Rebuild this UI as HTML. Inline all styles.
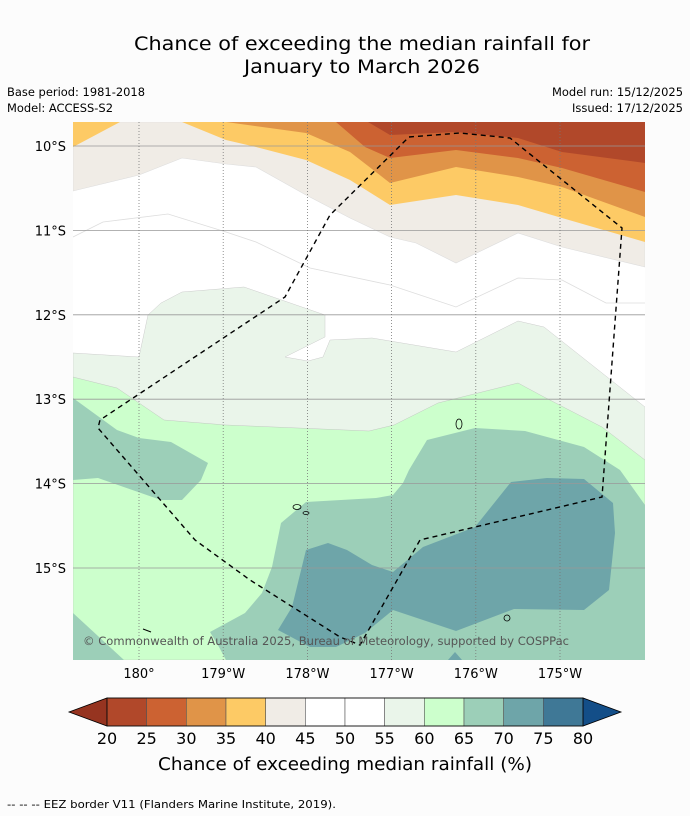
<!DOCTYPE html>
<html><head><meta charset="utf-8"><style>
body{margin:0;background:#fcfcfc;}
svg{display:block;font-family:"DejaVu Sans","Liberation Sans",sans-serif;}
</style></head><body>
<svg id="fig" width="690" height="816" viewBox="0 0 690 816">
<rect width="690" height="816" fill="#fcfcfc"/>
<text x="362" y="50" font-size="19" text-anchor="middle" textLength="456" lengthAdjust="spacingAndGlyphs" fill="#000">Chance of exceeding the median rainfall for</text>
<text x="362" y="73" font-size="19" text-anchor="middle" textLength="236" lengthAdjust="spacingAndGlyphs" fill="#000">January to March 2026</text>
<text x="7" y="96" font-size="11.5" textLength="138" lengthAdjust="spacingAndGlyphs">Base period: 1981-2018</text>
<text x="7" y="112" font-size="11.5" textLength="106" lengthAdjust="spacingAndGlyphs">Model: ACCESS-S2</text>
<text x="683" y="96" font-size="11.5" text-anchor="end" textLength="131" lengthAdjust="spacingAndGlyphs">Model run: 15/12/2025</text>
<text x="683" y="112" font-size="11.5" text-anchor="end" textLength="111" lengthAdjust="spacingAndGlyphs">Issued: 17/12/2025</text>
<defs><clipPath id="mapclip"><rect x="73" y="122" width="572" height="538"/></clipPath></defs>
<g clip-path="url(#mapclip)">
<rect x="73" y="122" width="572" height="538" fill="#ffffff"/>
<polygon fill="#f0ece6" stroke="#ddd" stroke-width="0.6" points="73,122 645,122 645,267 562,247 518,233 456,263 416,243 390,237 350,218 306,195 256,167 226,164 182,158 139,175 73,191"/>
<polygon fill="#fdca65" points="182,122 645,122 645,242 562,218 518,205 456,195 390,205 350,180 306,160 256,147 226,140"/>
<polygon fill="#fdca65" points="73,122 120,122 73,147"/>
<polygon fill="#e09448" points="226,122 645,122 645,217 562,187 518,177 456,167 390,183 350,152 306,133"/>
<polygon fill="#cc6232" points="336,122 645,122 645,192 562,168 518,158 456,150 390,158 365,147"/>
<polygon fill="#b1482a" points="368,122 645,122 645,163 562,152 518,138 456,132 390,135"/>
<polyline fill="none" stroke="#ddd" stroke-width="0.8" points="73,237 103,222 168,214 226,232 256,242 310,268 390,285 456,307 518,278 562,280 606,303 645,303"/>
<polygon fill="#eaf5ea" stroke="#ccc" stroke-width="0.5" points="73,353 139,357 148,315 161,303 182,292 244,287 325,315 325,337 285,357 308,361 323,357 330,340 372,338 456,352 518,321 544,327 645,407 645,660 73,660"/>
<polygon fill="#ccffcc" stroke="#bbb" stroke-width="0.4" points="73,377 117,388 164,420 226,425 369,431 394,425 438,403 518,383 544,397 602,427 645,460 645,660 73,660"/>
<polygon fill="#9ccfb8" points="73,398 117,430 139,438 171,442 208,463 201,480 182,500 161,500 98,478 73,480"/>
<polygon fill="#9ccfb8" points="73,613 124,660 73,660"/>
<polygon fill="#9ccfb8" points="210,632 245,613 262,593 272,567 281,523 306,502 376,498 393,495 403,483 409,470 427,440 475,428 525,431 584,447 620,470 645,505 645,660 226,660 219,647"/>
<polygon fill="#6ea5a9" points="278,630 292,607 306,550 328,543 347,550 372,565 393,572 423,547 475,527 511,482 547,478 584,479 613,503 615,533 609,590 584,610 514,609 456,631 393,610 365,633 336,647 310,647"/>
<polygon fill="#6ea5a9" points="448,660 455,652 462,660"/>
<g id="grid"></g>
<polyline fill="none" stroke="#000" stroke-width="1.4" stroke-dasharray="5,4" points="409,137 460,133 510,138 622,228 602,497 420,540 360,645 340,637 250,580 195,540 98,428 100,420 285,297 330,215 409,137"/>
<ellipse cx="459" cy="424" rx="3" ry="5" fill="none" stroke="#000" stroke-width="0.8"/>
<ellipse cx="297" cy="507" rx="4" ry="2.5" fill="none" stroke="#000" stroke-width="0.8"/>
<ellipse cx="306" cy="513" rx="3" ry="1.5" fill="none" stroke="#000" stroke-width="0.8"/>
<circle cx="507" cy="618" r="3" fill="none" stroke="#000" stroke-width="0.8"/>
<line x1="143" y1="629" x2="151" y2="632" stroke="#000" stroke-width="1"/>
<text x="83" y="645" font-size="11.5" fill="#555" textLength="486" lengthAdjust="spacingAndGlyphs">© Commonwealth of Australia 2025, Bureau of Meteorology, supported by COSPPac</text>
</g>
<g id="axes"></g>
<g id="cbar"></g>
<text x="345" y="770" font-size="18" text-anchor="middle" textLength="374" lengthAdjust="spacingAndGlyphs">Chance of exceeding median rainfall (%)</text>
<text x="7" y="808" font-size="11" textLength="329" lengthAdjust="spacingAndGlyphs">--  --  -- EEZ border V11 (Flanders Marine Institute, 2019).</text>
</svg>
<script>
const lonLabels=["180°","179°W","178°W","177°W","176°W","175°W"];
const lonValues=[180,179,178,177,176,175];
const latLabels=["10°S","11°S","12°S","13°S","14°S","15°S"];
const latValues=[10,11,12,13,14,15];
const cbLevels=[20,25,30,35,40,45,50,55,60,65,70,75,80];
const cbColors=["#b1482a","#cc6232","#e09448","#fdca65","#f0ece6","#ffffff","#ffffff","#eaf5ea","#ccffcc","#9ccfb8","#6ea5a9","#3f7896"];
const NS="http://www.w3.org/2000/svg";
function xLon(l){return 139+(180-l)*84.2;}
function yLat(l){return 146+(l-10)*84.4;}
function el(t,a,p){const e=document.createElementNS(NS,t);for(const k in a)e.setAttribute(k,a[k]);p.appendChild(e);return e;}
const grid=document.getElementById('grid'),axes=document.getElementById('axes');
latValues.forEach((v,i)=>{
 const y=yLat(v);
 const l=el('line',{x1:73,x2:645,y1:y,y2:y,stroke:'#999','stroke-width':0.8},grid);
 
 
 const t=el('text',{x:66,y:y+5,'font-size':13,'text-anchor':'end'},axes);t.textContent=latLabels[i];
 
 
});
lonValues.forEach((v,i)=>{
 const x=xLon(v);
 const l=el('line',{x1:x,x2:x,y1:122,y2:660,stroke:'#777','stroke-width':0.8,'stroke-dasharray':'1,2'},grid);
 
 
 const t=el('text',{x:x,y:678,'font-size':13,'text-anchor':'middle'},axes);t.textContent=lonLabels[i];
 
 
});
const cb=document.getElementById('cbar');
const cx0=107,cx1=583,cy0=698,cy1=726;
function xCb(v){return cx0+(v-cbLevels[0])/(cbLevels[cbLevels.length-1]-cbLevels[0])*(cx1-cx0);}
const lt=el('polygon',{points:`69,712 ${cx0},${cy0} ${cx0},${cy1}`,fill:'#963420',stroke:'#000','stroke-width':0.8},cb);


const rt=el('polygon',{points:`621,712 ${cx1},${cy0} ${cx1},${cy1}`,fill:'#134e88',stroke:'#000','stroke-width':0.8},cb);


cbColors.forEach((c,i)=>{
 const x=xCb(cbLevels[i]),w=xCb(cbLevels[i+1])-x;
 const r=el('rect',{x:x,y:cy0,width:w,height:cy1-cy0,fill:c,stroke:'#555','stroke-width':0.6},cb);
 
 
});
el('rect',{x:cx0,y:cy0,width:cx1-cx0,height:cy1-cy0,fill:'none',stroke:'#000','stroke-width':0.8},cb);
cbLevels.forEach(v=>{
 const t=el('text',{x:xCb(v),y:744,'font-size':16,'text-anchor':'middle'},cb);t.textContent=v;
 
 
});
</script>
</body></html>
